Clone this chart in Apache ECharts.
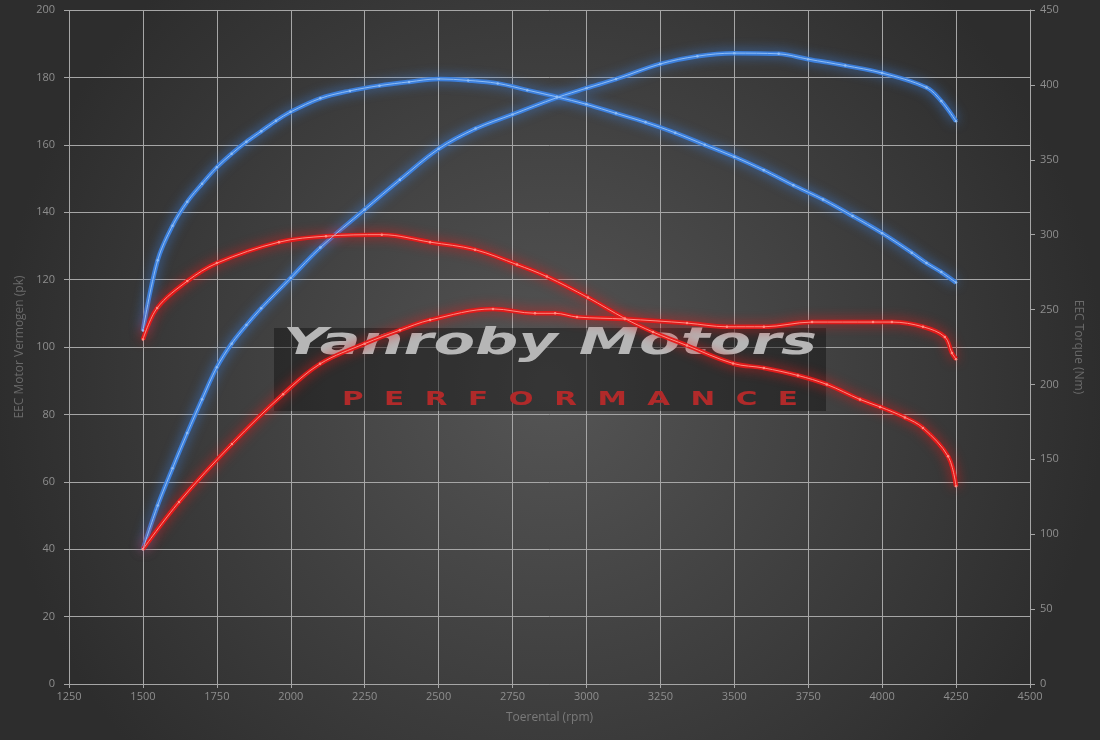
<!DOCTYPE html>
<html>
<head>
<meta charset="utf-8">
<script src="https://cdn.jsdelivr.net/npm/echarts@6/dist/echarts.min.js"></script>
<style>
html,body{margin:0;padding:0;background:#333;}
#chart{width:1100px;height:740px;}
</style>
</head>
<body>
<div id="chart"></div>
<script>
// ---- data ----
const xTicks = [1250, 4500, 250];
const leftAxisRange = [0, 200, 20];
const rightAxisRange = [0, 450, 50];

const bluePowerRpm = [1500,1550,1600,1650,1700,1750,1800,1850,1900,2000,2100,2250,2369,2500,2625,2750,2900,3000,3100,3250,3375,3500,3650,3750,3875,4000,4150,4200,4250];
const bluePowerPk  = [40,53,64,74.5,84.5,94,101,106.5,111.5,120.5,129.5,140.8,149.6,158.8,164.8,169,174,176.8,179.5,184,186.3,187.2,187,185.4,183.5,181.3,177,173,167];

const blueTorqueRpm = [1500,1550,1600,1650,1700,1750,1800,1850,1900,1950,2000,2100,2200,2300,2400,2500,2600,2700,2800,2900,3000,3100,3200,3300,3400,3500,3600,3700,3800,3900,4000,4100,4150,4200,4250];
const blueTorqueNm  = [236,283,306,322,334,345,354,362,369,376,382,391,396,399.5,402,404,403,401,396.5,392,387,381,375,368,360,352,343,333,323.5,312.5,301,288,281,275,268];

const redPowerRpm = [1500,1622,1801,1974,2099,2250,2369,2471,2684,2826,2894,2968,3130,3340,3475,3600,3763,3969,4033,4138,4212,4236,4250];
const redPowerPk  = [40,54,71.2,86,95,101,105,108,111.3,110,110,108.9,108.3,107.1,106,106,107.4,107.4,107.4,106,103,98.2,96.4];

const redTorqueRpm = [1500,1548,1650,1750,1960,2119,2308,2471,2623,2765,2866,3005,3130,3225,3340,3496,3600,3715,3813,3925,3993,4077,4138,4223,4250];
const redTorqueNm  = [230,251,269,281,295,299,300,295,290,280,272,258,244,235,226,214,211,206,200,190,185,178,171,152,132];

const xName = 'Toerental (rpm)';
const leftName = 'EEC Motor Vermogen (pk)';
const rightName = 'EEC Torque (Nm)';
const watermarkTitle = 'Yanroby Motors';
const watermarkSub = 'P  E  R  F  O  R  M  A  N  C  E';

// ---- chart ----
function zip(a, b){ return a.map((v,i)=>[v,b[i]]); }

function glowPair(name, rpm, vals, axis, glow, core){
  const data = zip(rpm, vals);
  return [
    { name: name, type:'line', yAxisIndex: axis, data: data, smooth: 0.35, symbol:'none',
      lineStyle:{ width: 4.5, color: glow, shadowBlur: 12, shadowColor: glow }, z: 3 },
    { name: name + ' core', type:'line', yAxisIndex: axis, data: data, smooth: 0.35,
      symbol:'circle', symbolSize: 2.5, showSymbol: true,
      itemStyle:{ color: core, borderWidth: 0 },
      lineStyle:{ width: 1, color: core }, z: 4 }
  ];
}

const FONT = "'Open Sans', 'DejaVu Sans', sans-serif";
const labelColor = '#8e8e8e';
const gridColor = '#a6a6a6';

function measure(text, font){
  const c = document.createElement('canvas').getContext('2d');
  c.font = font; return c.measureText(text).width;
}
const titleFont = "italic bold 38px 'DejaVu Sans'";
const titleScale = 534 / measure(watermarkTitle, titleFont);
const subFont = "bold 20px 'DejaVu Sans'";
const subScale = 456 / measure(watermarkSub, subFont);

const chart = echarts.init(document.getElementById('chart'), null, {renderer:'canvas'});
chart.setOption({
  animation: false,
  backgroundColor: {
    type: 'radial', x: 0.5, y: 0.52, r: 0.75,
    colorStops: [{offset:0, color:'#555555'}, {offset:1, color:'#2d2d2d'}]
  },
  grid: { left: 69, right: 70, top: 10, bottom: 56, containLabel: false },
  xAxis: {
    type: 'value', min: xTicks[0], max: xTicks[1], interval: xTicks[2],
    name: xName, nameLocation: 'middle', nameGap: 28,
    nameTextStyle: { color: '#7a7a7a', fontSize: 12, fontFamily: FONT },
    axisLine: { show: true, lineStyle: { color: gridColor } },
    axisTick: { show: true, length: 4, lineStyle: { color: gridColor } },
    axisLabel: { color: labelColor, fontSize: 11, fontFamily: FONT, margin: 7,
                 formatter: v => String(v) },
    splitLine: { show: true, lineStyle: { color: gridColor, width: 1 } }
  },
  yAxis: [
    {
      type: 'value', min: leftAxisRange[0], max: leftAxisRange[1], interval: leftAxisRange[2],
      position: 'left',
      name: leftName, nameLocation: 'middle', nameGap: 42, nameRotate: 90,
      nameTextStyle: { color: '#6a6a6a', fontSize: 12, fontFamily: FONT },
      axisLine: { show: false },
      axisTick: { show: true, length: 5, lineStyle: { color: gridColor } },
      axisLabel: { color: labelColor, fontSize: 11, fontFamily: FONT, margin: 14,
                   formatter: v => String(v) },
      splitLine: { show: true, lineStyle: { color: gridColor, width: 1 } }
    },
    {
      type: 'value', min: rightAxisRange[0], max: rightAxisRange[1], interval: rightAxisRange[2],
      position: 'right',
      name: rightName, nameLocation: 'middle', nameGap: 42, nameRotate: -90,
      nameTextStyle: { color: '#6a6a6a', fontSize: 12, fontFamily: FONT },
      axisLine: { show: true, lineStyle: { color: gridColor } },
      axisTick: { show: true, length: 5, lineStyle: { color: gridColor } },
      axisLabel: { color: labelColor, fontSize: 11, fontFamily: FONT, margin: 10,
                   formatter: v => String(v) },
      splitLine: { show: false }
    }
  ],
  graphic: [
    { type: 'rect', z: 1, shape: { x: 274, y: 328, width: 552, height: 83 },
      style: { fill: 'rgba(15,15,15,0.45)' } },
    { type: 'text', z: 1, x: 283, y: 325, scaleX: titleScale,
      style: { text: watermarkTitle, font: titleFont, fill: '#b6b6b6',
               textVerticalAlign: 'top', verticalAlign: 'top' } },
    { type: 'text', z: 1, x: 342, y: 390, scaleX: subScale,
      style: { text: watermarkSub, font: subFont, fill: '#b02a2a',
               shadowBlur: 5, shadowColor: 'rgba(210,40,40,0.9)',
               textVerticalAlign: 'top', verticalAlign: 'top' } }
  ],
  series: [
    ...glowPair('Vermogen origineel', bluePowerRpm, bluePowerPk, 0, 'rgba(60,130,225,0.95)', '#8fbdf5'),
    ...glowPair('Torque origineel', blueTorqueRpm, blueTorqueNm, 1, 'rgba(60,130,225,0.95)', '#8fbdf5'),
    ...glowPair('Vermogen', redPowerRpm, redPowerPk, 0, 'rgba(230,25,25,0.95)', '#ff8a80'),
    ...glowPair('Torque', redTorqueRpm, redTorqueNm, 1, 'rgba(230,25,25,0.95)', '#ff8a80')
  ]
});
</script>
</body>
</html>
